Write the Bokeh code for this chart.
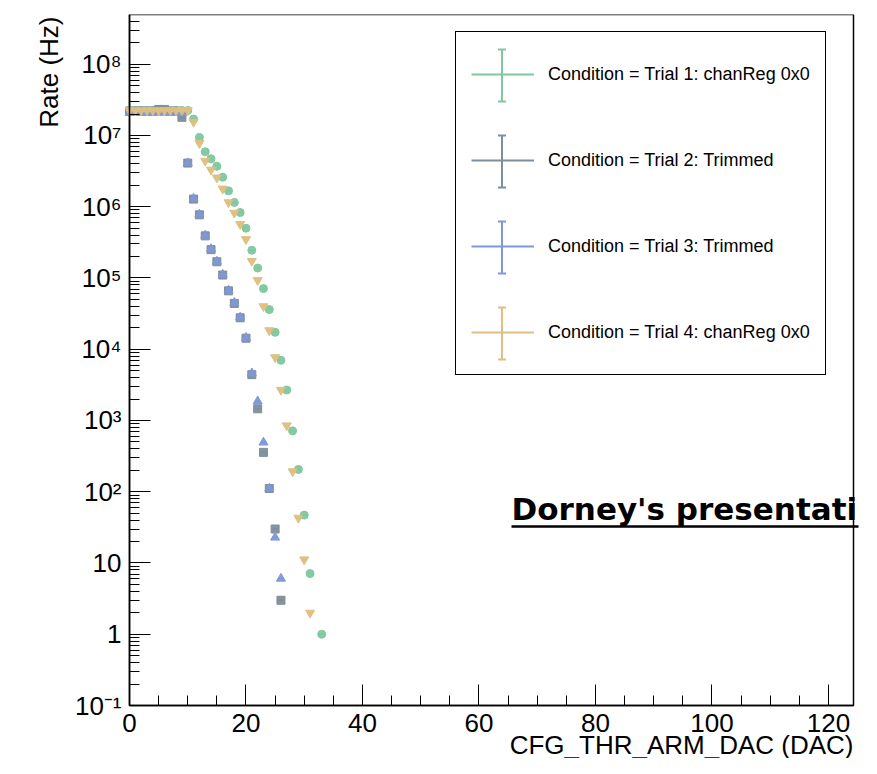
import math
from bokeh.plotting import figure
from bokeh.models import (ColumnDataSource, FixedTicker, SingleIntervalTicker, Range1d,
                          Legend, LegendItem, Label, Arrow, TeeHead, BoxAnnotation)
from bokeh.embed import file_html
from bokeh.resources import INLINE

# ---------------- data ----------------
labels = ["Condition = Trial 1: chanReg 0x0",
          "Condition = Trial 2: Trimmed",
          "Condition = Trial 3: Trimmed",
          "Condition = Trial 4: chanReg 0x0"]
colors = ["#80c89e", "#7f8e9b", "#7e98d8", "#dfbf80"]
markers = ["circle", "square", "triangle", "inverted_triangle"]

dac_trial1 = [0, 1, 2, 3, 4, 5, 6, 7, 8, 9, 10, 11, 12, 13, 14, 15, 16, 17, 18, 19, 20,
              21, 22, 23, 24, 25, 26, 27, 28, 29, 30, 31, 33]
rate_trial1 = [2.26e7, 2.25e7, 2.25e7, 2.24e7, 2.25e7, 2.26e7, 2.25e7, 2.24e7, 2.25e7, 2.25e7, 2.24e7,
               1.70e7, 9.4e6, 5.9e6, 4.7e6, 3.7e6, 2.6e6, 1.67e6, 1.15e6, 8.3e5, 5.0e5,
               2.45e5, 1.38e5, 7.1e4, 3.6e4, 1.73e4, 7.0e3, 2.68e3, 715, 206, 47, 7.1, 1.0]

dac_trial2 = [0, 1, 2, 3, 4, 5, 6, 7, 8, 9, 10, 11, 12, 13, 14, 15, 16, 17, 18, 19, 20,
              21, 22, 23, 24, 25, 26]
rate_trial2 = [2.2e7, 2.2e7, 2.21e7, 2.2e7, 2.2e7, 2.32e7, 2.32e7, 2.2e7, 2.2e7, 1.8e7,
               4.1e6, 1.28e6, 7.7e5, 3.9e5, 2.5e5, 1.69e5, 1.1e5, 6.6e4, 4.4e4, 2.76e4, 1.43e4,
               4.4e3, 1.46e3, 357, 111, 30, 3.0]

dac_trial3 = [0, 1, 2, 3, 4, 5, 6, 7, 8, 9, 10, 11, 12, 13, 14, 15, 16, 17, 18, 19, 20,
              21, 22, 23, 24, 25, 26]
rate_trial3 = [2.08e7, 2.1e7, 2.09e7, 2.1e7, 2.08e7, 2.1e7, 2.1e7, 2.09e7, 2.1e7, 2.05e7,
               4.1e6, 1.3e6, 7.8e5, 3.95e5, 2.55e5, 1.7e5, 1.12e5, 6.7e4, 4.5e4, 2.8e4, 1.45e4,
               4.6e3, 1.86e3, 492, 111, 22.8, 6.05]

dac_trial4 = [0, 1, 2, 3, 4, 5, 6, 7, 8, 9, 10, 11, 12, 13, 14, 15, 16, 17, 18, 19, 20,
              21, 22, 23, 24, 25, 26, 27, 28, 29, 30, 31]
rate_trial4 = [2.25e7, 2.25e7, 2.25e7, 2.25e7, 2.25e7, 2.25e7, 2.25e7, 2.25e7, 2.25e7, 2.25e7, 2.25e7,
               1.55e7, 7.8e6, 4.4e6, 3.3e6, 2.56e6, 1.79e6, 1.15e6, 8.2e5, 5.7e5, 3.5e5,
               1.73e5, 9.3e4, 4.0e4, 1.84e4, 7.7e3, 2.68e3, 850, 193, 43, 11.2, 2.0]

x_bin_half_width = 0.5
X_MIN, X_MAX = 0.0, 124.3
Y_MIN, Y_MAX = 0.1, 10 ** 8.698

y_major_ticks = [0.1, 1.0, 10.0, 100.0, 1000.0, 10000.0, 100000.0, 1000000.0, 10000000.0, 100000000.0]
y_major_labels = ["10\u207b\u00b9", "1", "10", "10\u00b2", "10\u00b3", "10\u2074",
                  "10\u2075", "10\u2076", "10\u2077", "10\u2078"]

series = [(dac_trial1, rate_trial1), (dac_trial2, rate_trial2),
          (dac_trial3, rate_trial3), (dac_trial4, rate_trial4)]

# ---------------- layout (pixels) ----------------
W, H = 861, 758
FL, FR, FT, FB = 129, 853, 14, 705          # ROOT-style frame box in canvas pixels
CH = H - FT                                  # Bokeh frame height (frame starts at FT)

x_per_px = (X_MAX - X_MIN) / (FR - FL)
x_start = X_MIN - FL * x_per_px
x_end = X_MAX + (W - FR) * x_per_px
ly0, ly1 = math.log10(Y_MIN), math.log10(Y_MAX)
dec_per_px = (ly1 - ly0) / (FB - FT)
y_start = 10 ** (ly0 - (H - FB) * dec_per_px)
y_end = Y_MAX

p = figure(width=W, height=H, y_axis_type="log",
           x_range=Range1d(x_start, x_end), y_range=Range1d(y_start, y_end),
           output_backend="svg", toolbar_location=None)
p.min_border = 0
p.min_border_left = p.min_border_right = p.min_border_bottom = 0
p.min_border_top = FT
p.title.visible = False
p.background_fill_color = "white"
p.border_fill_color = "white"
p.outline_line_color = None
p.xgrid.visible = False
p.ygrid.visible = False

FONT = "Liberation Sans"

xa = p.xaxis[0]
xa.ticker = SingleIntervalTicker(interval=20, num_minor_ticks=4)
xa.fixed_location = Y_MIN
xa.bounds = (X_MIN, X_MAX)
ya = p.yaxis[0]
minor = [m * 10.0 ** e for e in range(-1, 9) for m in range(2, 10) if m * 10.0 ** e < Y_MAX]
ya.ticker = FixedTicker(ticks=y_major_ticks, minor_ticks=minor)
ya.major_label_overrides = {t: l for t, l in zip(y_major_ticks, y_major_labels)}
ya.fixed_location = X_MIN
ya.bounds = (Y_MIN, Y_MAX)

for ax in (xa, ya):
    ax.axis_line_color = "black"
    ax.axis_line_width = 1.5
    ax.major_tick_in = 21
    ax.major_tick_out = 0
    ax.minor_tick_in = 10
    ax.minor_tick_out = 0
    ax.major_tick_line_color = "black"
    ax.minor_tick_line_color = "black"
    ax.major_label_text_font = FONT
    ax.major_label_text_font_size = "26px"
    ax.major_label_text_color = "black"
xa.major_label_standoff = 8
ya.major_label_standoff = 8

# frame box of the data area
p.add_layout(BoxAnnotation(left=X_MIN, right=X_MAX, bottom=Y_MIN, top=Y_MAX,
                           fill_alpha=0, line_color="black", line_alpha=1.0, line_width=1.5,
                           level="underlay"))

seg_renderers = []
for (xs, ys), c, mk in zip(series, colors, markers):
    src = ColumnDataSource(dict(x=xs, y=ys,
                                x0=[v - x_bin_half_width for v in xs],
                                x1=[v + x_bin_half_width for v in xs]))
    sr = p.segment(x0="x0", y0="y", x1="x1", y1="y", source=src, line_color=c, line_width=2)
    p.scatter(x="x", y="y", source=src, marker=mk, size=9 if "triangle" in mk else 8,
              fill_color=c, line_color=c, fill_alpha=0.95)
    seg_renderers.append(sr)

# ---------------- legend (screen positions inside the Bokeh frame, y upward) ----------------
PAD, GW, GH, SP = 15, 63, 54, 32
LEG_LEFT, LEG_TOP = 455, 33
leg_h = 2 * PAD + len(labels) * GH + (len(labels) - 1) * SP
legend = Legend(items=[LegendItem(label=l, renderers=[r]) for l, r in zip(labels, seg_renderers)],
                location=(LEG_LEFT, H - LEG_TOP - leg_h), orientation="vertical", margin=0,
                glyph_width=GW, glyph_height=GH, spacing=SP, padding=PAD, label_standoff=14,
                label_height=20, label_text_font=FONT, label_text_font_size="18px",
                label_text_color="black", border_line_color="black", border_line_alpha=1.0,
                border_line_width=1.3, background_fill_color="white", background_fill_alpha=0.0)
p.add_layout(legend)

cx = LEG_LEFT + PAD + GW / 2
for i, c in enumerate(colors):
    cy = H - (LEG_TOP + PAD + GH / 2 + i * (GH + SP))
    arr = Arrow(x_start=cx, y_start=cy - 26, x_end=cx, y_end=cy + 26,
                start_units="screen", end_units="screen",
                start=TeeHead(size=8, line_color=c, line_width=2),
                end=TeeHead(size=8, line_color=c, line_width=2),
                line_color=c, line_width=2, level="overlay")
    p.add_layout(arr)

# ---------------- axis titles & note ----------------
p.add_layout(Label(x=48, y=H - 16, x_units="screen", y_units="screen", text="Rate (Hz)",
                   angle=math.pi / 2, text_align="right", text_baseline="middle",
                   text_font=FONT, text_font_size="26px", text_color="black"))
p.add_layout(Label(x=FR, y=H - 744, x_units="screen", y_units="screen",
                   text="CFG_THR_ARM_DAC (DAC)", text_align="right", text_baseline="middle",
                   text_font=FONT, text_font_size="26px", text_color="black"))
p.add_layout(Label(x=511, y=H - 508, x_units="screen", y_units="screen",
                   text="Dorney's presentati", text_align="left", text_baseline="middle",
                   text_font="DejaVu Sans", text_font_style="bold", text_font_size="31px",
                   text_color="black"))
p.add_layout(Arrow(x_start=511, y_start=H - 526, x_end=858, y_end=H - 526,
                   start_units="screen", end_units="screen", start=None, end=None,
                   line_color="black", line_width=2.5, level="overlay"))

open("out.html", "w").write(file_html(p, INLINE, "Rate vs CFG_THR_ARM_DAC"))
